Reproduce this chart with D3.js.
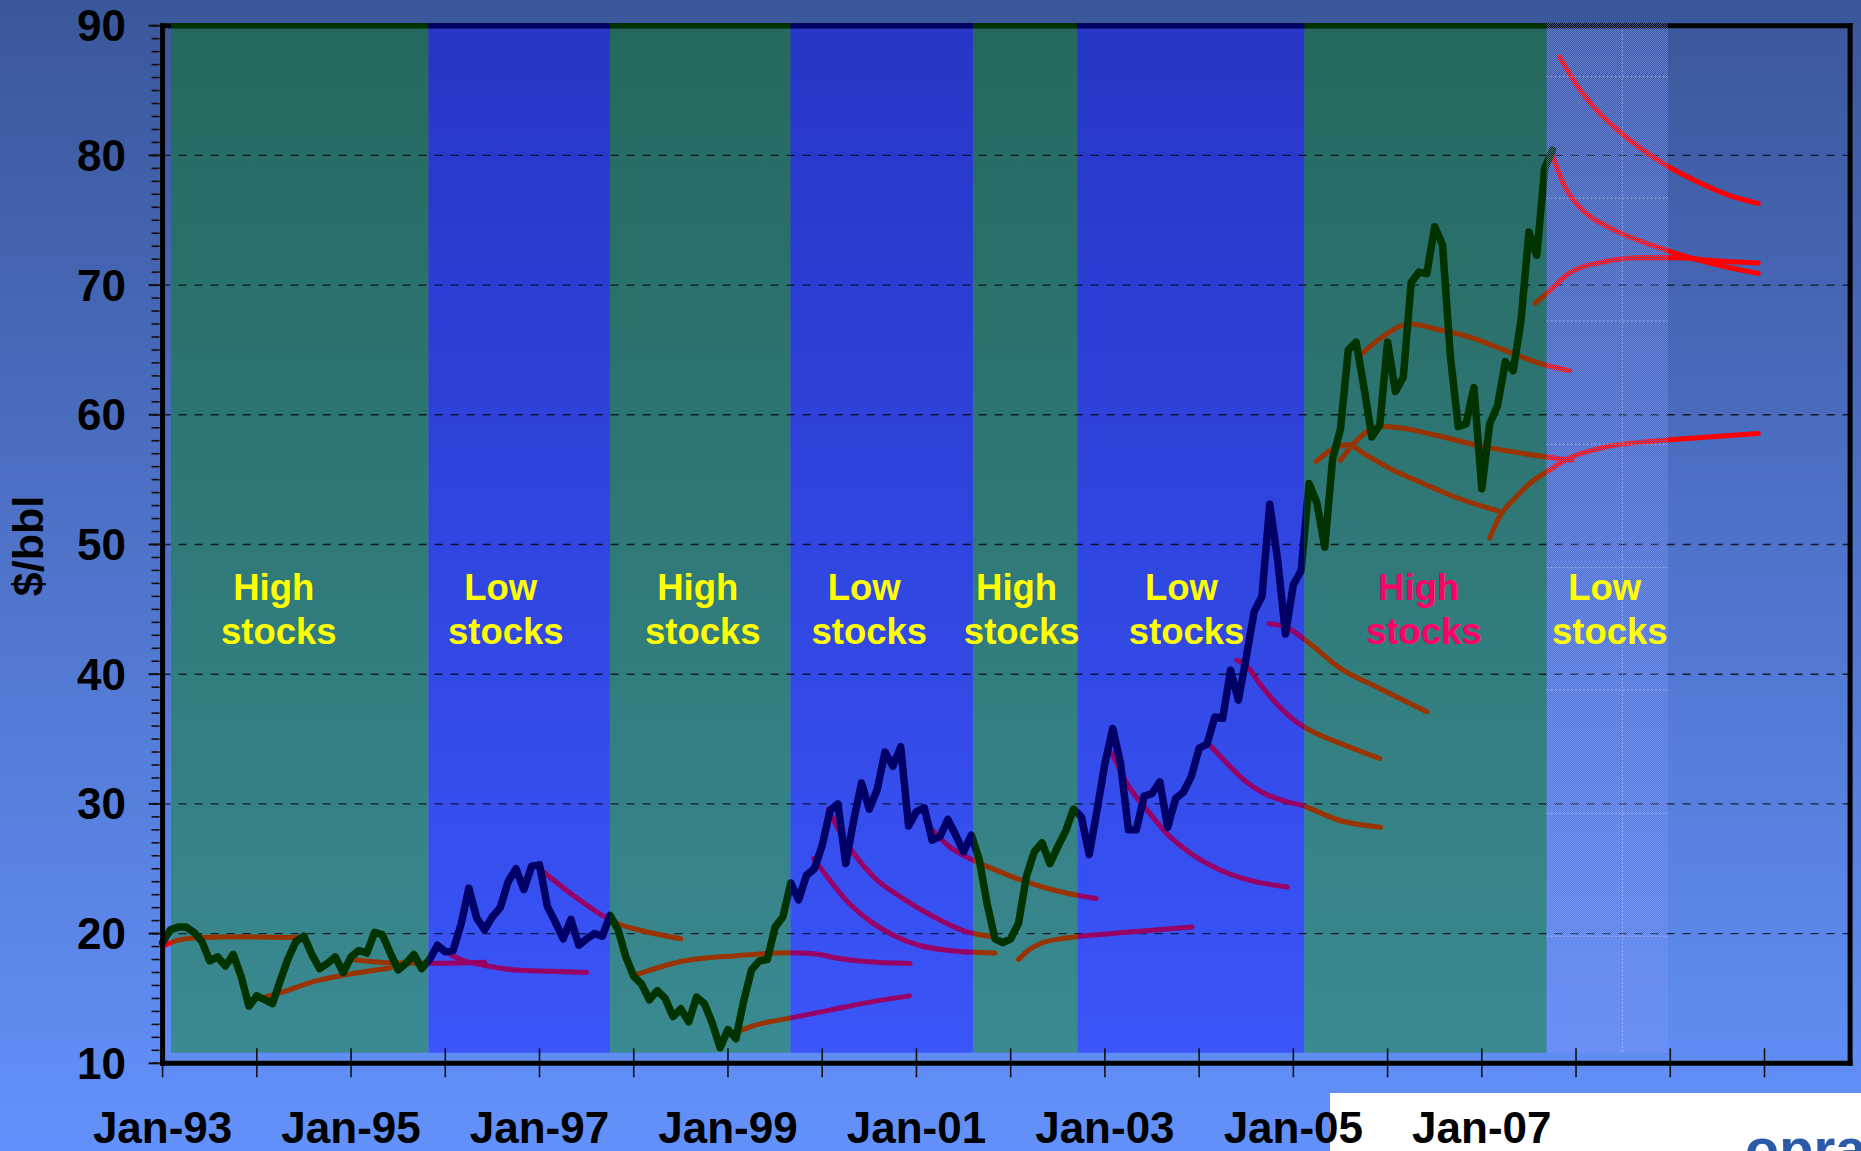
<!DOCTYPE html>
<html><head><meta charset="utf-8">
<script src="https://cdn.jsdelivr.net/npm/d3@7"></script>
<style>
html,body{margin:0;padding:0;background:#fff;}
svg{display:block;}
text{font-family:"Liberation Sans",Arial,Helvetica,sans-serif;font-weight:bold;}
</style></head><body>
<svg id="chart" width="1861" height="1151"></svg>
<script>
// ---------------- DATA ----------------
// Monthly spot price, $/bbl, month 0 = Jan-93
const priceValues = [
19.3,20.3,20.5,20.5,20.1,19.4,17.9,18.2,17.5,18.4,16.7,14.4,
15.2,14.9,14.6,16.4,18.1,19.4,19.8,18.4,17.3,17.7,18.2,17.0,
18.2,18.7,18.5,20.1,19.9,18.5,17.2,17.7,18.4,17.3,18.0,19.1,
18.6,18.7,20.7,23.5,21.2,20.3,21.3,22.0,24.0,25.0,23.4,25.2,
25.3,22.1,20.9,19.6,21.1,19.1,19.6,20.0,19.8,21.4,20.3,18.2,
16.7,16.1,14.9,15.6,15.0,13.6,14.2,13.2,15.1,14.6,13.1,11.2,
12.6,11.9,14.8,17.2,17.9,18.0,20.5,21.3,23.9,22.6,24.5,25.0,
26.8,29.5,30.0,25.4,28.7,31.6,29.6,31.1,34.0,32.9,34.4,28.3,
29.4,29.7,27.2,27.5,28.8,27.6,26.3,27.6,25.7,22.3,19.6,19.3,
19.6,20.8,24.4,26.3,27.0,25.4,26.7,27.9,29.6,29.0,26.1,29.5,
33.1,35.8,33.1,28.0,28.0,30.6,30.8,31.7,28.2,30.4,30.9,32.1,
34.3,34.6,36.7,36.6,40.3,38.0,41.3,44.8,46.0,53.1,48.8,43.1,
46.9,48.0,54.7,53.2,49.8,56.6,58.9,65.0,65.6,62.1,58.3,59.2,
65.6,61.8,62.9,70.2,71.0,70.9,74.5,73.1,64.5,59.1,59.3,62.1,
54.3,59.3,60.7,64.1,63.4,67.3,74.1,72.3,79.0,80.4
];

// Forward (futures) curves: [month index, $/bbl]
const futuresCurves = [
  [[0,19.0],[2,19.5],[5,19.7],[10,19.75],[17.3,19.7]],
  [[12.4,15.0],[15.3,15.5],[19.2,16.3],[23.1,16.8],[29,17.35]],
  [[24.1,18.0],[28.9,17.75],[34,17.72],[41,17.8]],
  [[36,18.6],[38,18.0],[41.4,17.5],[45,17.2],[49.5,17.1],[54,17.0]],
  [[48,25.0],[52.4,22.9],[56,21.4],[58.3,20.7],[61.2,20.2],[66,19.6]],
  [[60.4,16.85],[66,17.85],[73.1,18.3],[79.6,18.52],[82.9,18.45],[86,18.1],[89.4,17.85],[95.2,17.7]],
  [[73.5,12.5],[75,12.85],[80,13.5],[85,14.1],[89,14.6],[95.1,15.2]],
  [[82.9,25.8],[84.6,24.4],[87,22.6],[90,21.0],[93,19.9],[96.3,19.1],[100.2,18.7],[106,18.5]],
  [[84.8,29.6],[86.1,28.0],[88,26.2],[90.5,24.4],[94.3,22.7],[98.2,21.3],[102.1,20.2],[106,19.75]],
  [[98,28.0],[100.2,26.7],[103.1,25.7],[106.5,24.8],[109.9,24.0],[113.8,23.3],[118.9,22.7]],
  [[109,18.0],[110,18.6],[111.9,19.26],[114.8,19.64],[118.7,19.9],[123.6,20.15],[131.1,20.5]],
  [[120.9,33.9],[122.8,31.6],[125.4,29.5],[127.9,27.7],[130.9,26.2],[134.3,25.0],[138.5,24.1],[143.2,23.6]],
  [[133.4,34.5],[135.6,33.1],[138,31.7],[140,30.9],[143,30.2],[145,29.9],[150,28.7],[155.1,28.2]],
  [[136.8,41.1],[138.1,40.6],[139.8,39.2],[141.9,37.7],[144,36.5],[147,35.4],[149,34.9],[155,33.5]],
  [[140.9,43.9],[143,43.65],[146,42.4],[150,40.45],[155,38.9],[161,37.1]],
  [[146.9,56.4],[149.1,57.4],[151,57.7],[153,57.0],[156.8,55.7],[160.2,54.8],[164.4,53.7],[170,52.6]],
  [[150,56.5],[151.7,57.8],[155.1,59.1],[157.6,59.0],[162.3,58.4],[167.8,57.6],[176.3,56.75],[179.5,56.5]],
  [[152.7,64.7],[155.1,65.9],[158.9,67.0],[162.3,66.6],[167,65.9],[170.8,65.0],[176.3,63.8],[179.2,63.4]],
  [[169,50.5],[170.2,52.1],[172.1,53.5],[174.6,54.95],[176.5,55.7],[179.1,56.65],[183.6,57.5],[190.5,58.0],[197.3,58.3],[203.2,58.55]],
  [[174.8,68.6],[176.7,69.6],[179.1,70.9],[183.6,71.8],[188.2,72.1],[192.8,72.1],[197.3,71.9],[203.2,71.7]],
  [[177,80.0],[178.6,77.55],[180.9,75.75],[184.5,74.35],[190.5,72.9],[197.3,71.65],[203.2,70.9]],
  [[177.9,87.6],[180,85.5],[182.3,83.7],[185.9,81.65],[190.5,79.6],[195,78.1],[199.6,76.9],[203.2,76.3]]
];

// Stock regimes (month index)
const bandStarts = [1.07, 33.86, 56.98, 79.97, 103.2, 116.5, 145.4, 176.25];
const bandEnds   = [33.86, 56.98, 79.97, 103.2, 116.5, 145.4, 176.25, 191.7];
const bandTypes  = ["high","low","high","low","high","low","high","future"];
const bandLabelWords   = ["High","Low","High","Low","High","Low","High","Low"];
const bandLabelCenters = [14.8, 43.7, 68.8, 90.0, 109.4, 130.4, 160.6, 184.3];
const bandLabelColors  = ["#ffff00","#ffff00","#ffff00","#ffff00","#ffff00","#ffff00","#ff0066","#ffff00"];
const bandBottomValue = 10.82;

// Axes
const yMajorTicks = [10,20,30,40,50,60,70,80,90];
const yGridValues = [20,30,40,50,60,70,80];
const xTickMonths = [0,12,24,36,48,60,72,84,96,108,120,132,144,156,168,180,192,204];
const xLabelMonths = [0,24,48,72,96,120,144,168];
const xLabels = ["Jan-93","Jan-95","Jan-97","Jan-99","Jan-01","Jan-03","Jan-05","Jan-07"];
const hatchGridValues = [19.8,29.28,38.78,48.21,57.73,67.23,76.7,86.07];
const hatchGridMonth = 185.9;
const xDomainEnd = 214.9;

// ---------------- CHART ----------------
const W = 1861, H = 1151;
const svg = d3.select("#chart");
const x = d3.scaleLinear().domain([0, 204]).range([162.6, 1764.5]);
const y = d3.scaleLinear().domain([10, 90]).range([1063.3, 25.7]);
const xL = x(0), xR = x(xDomainEnd), yT = y(90), yB = y(10);

const defs = svg.append("defs");
function vgrad(id, stops, y1, y2){
  const g = defs.append("linearGradient").attr("id", id)
    .attr("gradientUnits","userSpaceOnUse").attr("x1",0).attr("x2",0).attr("y1",y1).attr("y2",y2);
  stops.forEach(s => g.append("stop").attr("offset", s[0]).attr("stop-color", s[1]));
}
vgrad("bgGrad", [[0,"#3b579b"],[1,"#6391fb"]], 0, H);
vgrad("highGrad", [[0,"#25685e"],[1,"#3a8a92"]], yT, y(bandBottomValue));
vgrad("lowGrad", [[0,"#2636c6"],[1,"#3a55f9"]], yT, y(bandBottomValue));

const pat = defs.append("pattern").attr("id","hatch").attr("patternUnits","userSpaceOnUse")
  .attr("width",2).attr("height",2);
pat.append("rect").attr("x",0).attr("y",0).attr("width",1).attr("height",1).attr("fill","rgba(135,155,255,0.55)");
pat.append("rect").attr("x",1).attr("y",1).attr("width",1).attr("height",1).attr("fill","rgba(135,155,255,0.55)");

// background
svg.append("rect").attr("width",W).attr("height",H).attr("fill","url(#bgGrad)");

// bands
const bands = bandStarts.map((s,i)=>({s, e:bandEnds[i], type:bandTypes[i], word:bandLabelWords[i], c:bandLabelCenters[i], col:bandLabelColors[i]}));
svg.append("g").selectAll("rect").data(bands.filter(b=>b.type!=="future")).join("rect")
  .attr("x", d=>x(d.s)).attr("width", d=>x(d.e)-x(d.s))
  .attr("y", yT).attr("height", y(bandBottomValue)-yT)
  .attr("fill", d=> d.type==="high" ? "url(#highGrad)" : "url(#lowGrad)");

// dashed gridlines
svg.append("g").selectAll("line").data(yGridValues).join("line")
  .attr("x1", xL).attr("x2", xR).attr("y1", d=>y(d)).attr("y2", d=>y(d))
  .attr("stroke","rgba(0,0,0,0.75)").attr("stroke-width",1.4).attr("stroke-dasharray","8,8");

// clip paths per regime
function addClip(id, rects){
  const cp = defs.append("clipPath").attr("id", id);
  rects.forEach(r => cp.append("rect").attr("x", r[0]).attr("y", 0).attr("width", Math.max(0,r[1]-r[0])).attr("height", H));
}
addClip("clipHigh", bands.filter(b=>b.type==="high").map(b=>[x(b.s), x(b.e)]));
addClip("clipLow", bands.filter(b=>b.type==="low").map(b=>[x(b.s), x(b.e)]));
const futureBand = bands.find(b=>b.type==="future");
addClip("clipOther", [[0, x(bandStarts[0])], [x(futureBand.s), W]]);

const regimes = [
  {clip:"clipHigh", curve:"#993300", price:"#003300"},
  {clip:"clipLow", curve:"#990066", price:"#000066"},
  {clip:"clipOther", curve:"#ff0000", price:"#003300"}
];

const curveLine = d3.line().x(d=>x(d[0])).y(d=>y(d[1])).curve(d3.curveMonotoneX);
const priceLine = d3.line().x((d,i)=>x(i)).y(d=>y(d));

regimes.forEach(r=>{
  const g = svg.append("g").attr("clip-path", `url(#${r.clip})`);
  g.selectAll("path").data(futuresCurves).join("path")
    .attr("d", curveLine).attr("fill","none").attr("stroke", r.curve)
    .attr("stroke-width",5).attr("stroke-linecap","round").attr("stroke-linejoin","round");
});
regimes.forEach(r=>{
  svg.append("g").attr("clip-path", `url(#${r.clip})`)
    .append("path").attr("d", priceLine(priceValues)).attr("fill","none")
    .attr("stroke", r.price).attr("stroke-width",7.5).attr("stroke-linejoin","round").attr("stroke-linecap","round");
});

// hatched forecast band (overlay)
svg.append("rect").attr("x", x(futureBand.s)).attr("width", x(futureBand.e)-x(futureBand.s))
  .attr("y", yT).attr("height", y(bandBottomValue)-yT).attr("fill","url(#hatch)");
svg.append("g").selectAll("line").data(hatchGridValues).join("line")
  .attr("x1", x(futureBand.s)).attr("x2", x(futureBand.e)).attr("y1", d=>y(d)).attr("y2", d=>y(d))
  .attr("stroke","rgba(255,255,255,0.4)").attr("stroke-width",1).attr("stroke-dasharray","2,2");
svg.append("line").attr("x1", x(hatchGridMonth)).attr("x2", x(hatchGridMonth))
  .attr("y1", yT).attr("y2", y(bandBottomValue))
  .attr("stroke","rgba(255,255,255,0.35)").attr("stroke-width",1).attr("stroke-dasharray","2,2");

// frame
const frame = svg.append("g");
frame.append("line").attr("x1", xL-2.5).attr("x2", xR+2.5).attr("y1", yT).attr("y2", yT).attr("stroke","#000").attr("stroke-width",5);
frame.selectAll(".bt").data(bands.filter(b=>b.type!=="future")).join("line")
  .attr("x1", d=>x(d.s)).attr("x2", d=>x(d.e)).attr("y1", yT).attr("y2", yT)
  .attr("stroke", d=> d.type==="high" ? "#003300" : "#000066").attr("stroke-width",5);
frame.append("rect").attr("x", x(futureBand.s)).attr("width", x(futureBand.e)-x(futureBand.s))
  .attr("y", yT-2.5).attr("height",5).attr("fill","url(#hatch)");
frame.append("line").attr("x1", xR).attr("x2", xR).attr("y1", yT-2.5).attr("y2", yB+2.5).attr("stroke","#000").attr("stroke-width",5);

// white box (logo area)
svg.append("rect").attr("x",1330).attr("y",1093).attr("width",W-1330).attr("height",H-1093).attr("fill","#ffffff");
svg.append("text").attr("x",1745).attr("y",1168).attr("font-size",56).attr("fill","#2b5aa8").text("opra");

// y axis
const yMinor = d3.range(10, 91, 1);
svg.append("g").selectAll("line").data(yMinor).join("line")
  .attr("x1", xL-3).attr("x2", xL-11).attr("y1", d=>y(d)).attr("y2", d=>y(d))
  .attr("stroke","#111").attr("stroke-width",1.6);
svg.append("g").selectAll("line").data(yMajorTicks).join("line")
  .attr("x1", xL-3).attr("x2", xL-14).attr("y1", d=>y(d)).attr("y2", d=>y(d))
  .attr("stroke","#111").attr("stroke-width",2);
svg.append("g").selectAll("text").data(yMajorTicks).join("text")
  .attr("x", 126).attr("y", d=>y(d)+15.5).attr("text-anchor","end")
  .attr("font-size",44).attr("fill","#000").text(d=>d);
svg.append("line").attr("x1", xL).attr("x2", xL).attr("y1", yT-2.5).attr("y2", yB+2.5).attr("stroke","#000").attr("stroke-width",5);

// x axis
svg.append("g").selectAll("line").data(xTickMonths).join("line")
  .attr("x1", d=>x(d)).attr("x2", d=>x(d)).attr("y1", yB-15).attr("y2", yB+14)
  .attr("stroke","#111").attr("stroke-width",1.6);
svg.append("line").attr("x1", xL-2.5).attr("x2", xR+2.5).attr("y1", yB).attr("y2", yB).attr("stroke","#000").attr("stroke-width",5);
svg.append("g").selectAll("text").data(xLabelMonths).join("text")
  .attr("x", d=>x(d)).attr("y", 1143).attr("text-anchor","middle")
  .attr("font-size",44).attr("fill","#000").text((d,i)=>xLabels[i]);

// y title
svg.append("text").attr("transform","translate(43,546) rotate(-90)").attr("text-anchor","middle")
  .attr("font-size",43).attr("fill","#000").text("$/bbl");

// band labels
const lab = svg.append("g");
bands.forEach(b=>{
  lab.append("text").attr("x", x(b.c)).attr("y", 600).attr("text-anchor","middle")
    .style("white-space","pre").attr("font-size",36.5).attr("fill", b.col).text(b.word + " ");
  lab.append("text").attr("x", x(b.c)).attr("y", 644).attr("text-anchor","middle")
    .attr("font-size",36.5).attr("fill", b.col).text("stocks");
});
</script>
</body></html>
